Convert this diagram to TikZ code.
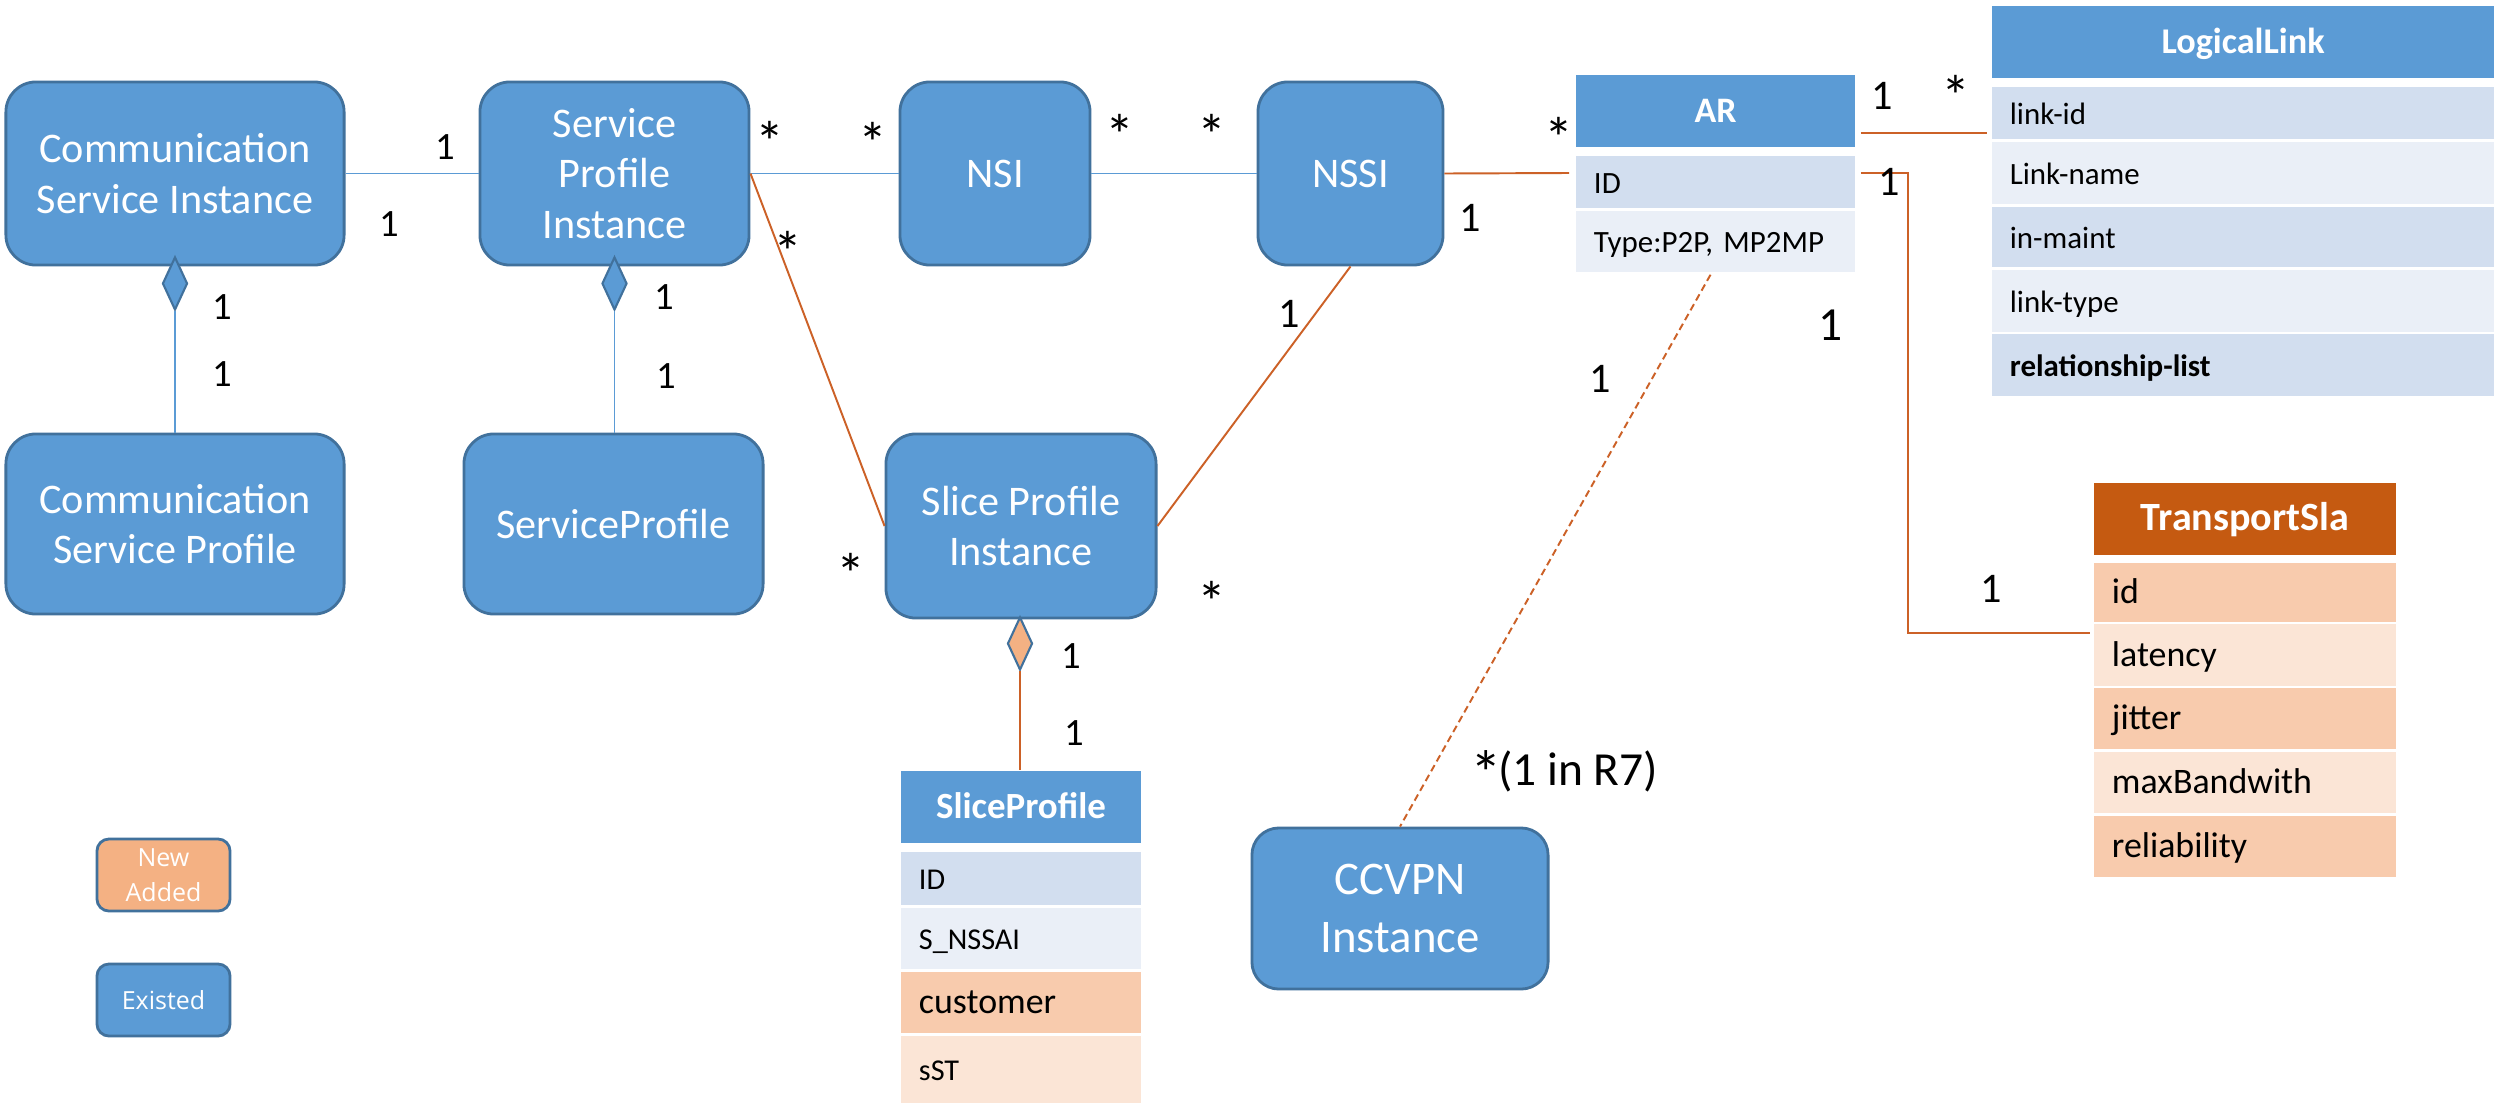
\documentclass[tikz,border=0pt]{standalone}
\usepackage{fontspec}
\setmainfont{Carlito}
\newfontfamily\legendfont{Open Sans}
\usetikzlibrary{calc,shapes.geometric}
\definecolor{boxblue}{HTML}{5B9BD5}
\definecolor{boxedge}{HTML}{41719C}
\definecolor{rowblueA}{HTML}{D2DEEF}
\definecolor{rowblueB}{HTML}{EAEFF7}
\definecolor{hdorange}{HTML}{C55A11}
\definecolor{roworA}{HTML}{F8CBAD}
\definecolor{roworB}{HTML}{FBE5D6}
\definecolor{neworange}{HTML}{F4B183}
\definecolor{linkorange}{HTML}{CC6127}
\tikzset{
  entity/.style={rectangle, rounded corners=0.3cm, draw=boxedge, line width=0.8pt, fill=boxblue,
    text=white, font=\fontsize{12}{14.3}\selectfont, align=center, inner sep=0pt},
  legendbox/.style={rectangle, rounded corners=0.12cm, draw=boxedge, line width=0.8pt,
    text=white, font=\legendfont\fontsize{7.1}{10}\selectfont, align=center, inner sep=0pt,
    minimum width=1.33cm, minimum height=0.72cm},
  hdr/.style={rectangle, inner sep=0pt, text=white, text height=0.644em, text depth=0pt,
    minimum height=0.72cm},
  cell/.style={rectangle, inner xsep=0.18cm, inner ysep=0pt, align=left, text=black,
    text height=0.644em, text depth=0pt},
  arcell/.style={cell, minimum width=2.79cm, text width=2.43cm, font=\fontsize{8.8}{10}\selectfont},
  llcell/.style={cell, minimum width=5.02cm, text width=4.66cm, font=\fontsize{8.8}{10}\selectfont},
  tscell/.style={cell, minimum width=3.02cm, text width=2.66cm, font=\fontsize{10.2}{12}\selectfont},
  spcell/.style={cell, minimum width=2.40cm, text width=2.04cm, font=\fontsize{8.6}{10}\selectfont},
  dmd/.style={diamond, draw=boxedge, line width=0.6pt, inner sep=0pt, minimum width=0.25cm, minimum height=0.53cm},
  blueline/.style={draw=boxblue, line width=0.5pt},
  orline/.style={draw=linkorange, line width=0.55pt},
  mult/.style={anchor=base, inner sep=0pt, font=\fontsize{11}{13}\selectfont},
  multL/.style={anchor=base, inner sep=0pt, font=\fontsize{12}{14}\selectfont},
  multXL/.style={anchor=base, inner sep=0pt, font=\fontsize{13.5}{16}\selectfont},
  star/.style={anchor=base, inner sep=0pt, font=\fontsize{16.5}{18}\selectfont},
}
\begin{document}
\begin{tikzpicture}[x=0.01cm, y=-0.01cm]
\useasboundingbox (0,0) rectangle (2494,1106);
\fill[white] (0,0) rectangle (2494,1106);

% entities
\node[entity, minimum width=3.38cm, minimum height=1.83cm] (csi) at (175,173.5) {Communication\\Service Instance};
\node[entity, minimum width=2.69cm, minimum height=1.83cm] (spi) at (614.5,173.5) {Service\\Profile\\Instance};
\node[entity, minimum width=1.90cm, minimum height=1.83cm] (nsi) at (995,173.5) {NSI};
\node[entity, minimum width=1.85cm, minimum height=1.83cm] (nssi) at (1350.5,173.5) {NSSI};
\node[entity, minimum width=3.38cm, minimum height=1.80cm] (csp) at (175,524) {Communication\\Service Profile};
\node[entity, minimum width=2.99cm, minimum height=1.80cm] (sprof) at (613.5,524) {ServiceProfile};
\node[entity, minimum width=2.70cm, minimum height=1.84cm] (spin) at (1021,526) {Slice Profile\\Instance};
\node[entity, minimum width=2.96cm, minimum height=1.61cm, rounded corners=0.27cm,
      font=\fontsize{13.3}{16.5}\selectfont] (ccvpn) at (1400,908.5) {CCVPN\\Instance};

% legend
\node[legendbox, fill=neworange] (lnew) at (163.5,875) {New\\Added};
\node[legendbox, fill=boxblue] (lexist) at (163.5,1000) {Existed};

% AR table
\node[hdr, fill=boxblue, minimum width=2.79cm, font=\bfseries\fontsize{10.2}{12}\selectfont] (arHead) at (1715.5,111) {AR};
\node[arcell, fill=rowblueA, minimum height=0.52cm] (arID) at (1715.5,182) {ID};
\node[arcell, fill=rowblueB, minimum height=0.61cm] (arType) at (1715.5,241.5) {Type:P2P, MP2MP};

% LogicalLink table
\node[hdr, fill=boxblue, minimum width=5.02cm, font=\bfseries\fontsize{10.3}{12}\selectfont] (llHead) at (2243,42) {LogicalLink};
\node[llcell, fill=rowblueA, minimum height=0.52cm] (llID) at (2243,113) {link-id};
\node[llcell, fill=rowblueB, minimum height=0.62cm] (llName) at (2243,173) {Link-name};
\node[llcell, fill=rowblueA, minimum height=0.60cm] (llMaint) at (2243,237) {in-maint};
\node[llcell, fill=rowblueB, minimum height=0.62cm] (llType) at (2243,301) {link-type};
\node[llcell, fill=rowblueA, minimum height=0.62cm] (llRel) at (2243,365) {\bfseries relationship-list};

% TransportSla table
\node[hdr, fill=hdorange, minimum width=3.02cm, font=\bfseries\fontsize{11.4}{13}\selectfont] (tsHead) at (2245,519) {TransportSla};
\node[tscell, fill=roworA, minimum height=0.59cm] (tsID) at (2245,592.5) {id};
\node[tscell, fill=roworB, minimum height=0.62cm] (tsLat) at (2245,655) {latency};
\node[tscell, fill=roworA, minimum height=0.61cm] (tsJit) at (2245,718.5) {jitter};
\node[tscell, fill=roworB, minimum height=0.61cm] (tsMax) at (2245,782.5) {maxBandwith};
\node[tscell, fill=roworA, minimum height=0.61cm] (tsRel) at (2245,846.5) {reliability};

% SliceProfile table
\node[hdr, fill=boxblue, minimum width=2.40cm, font=\bfseries\fontsize{10.5}{12}\selectfont] (spHead) at (1021,807) {SliceProfile};
\node[spcell, fill=rowblueA, minimum height=0.53cm] (spID) at (1021,878.5) {ID};
\node[spcell, fill=rowblueB, minimum height=0.61cm] (spNSSAI) at (1021,938.5) {S\_NSSAI};
\node[spcell, fill=roworA, minimum height=0.61cm, font=\fontsize{10.2}{12}\selectfont] (spCust) at (1021,1002.5) {customer};
\node[spcell, fill=roworB, minimum height=0.67cm] (spSST) at (1021,1069.5) {sST};

% diamonds
\node[dmd, fill=boxblue] (csiD) at (175,283.5) {};
\node[dmd, fill=boxblue] (spiD) at (614.5,283.5) {};
\node[dmd, fill=neworange] (spinD) at (1020,643.5) {};

% connectors
\draw[blueline] (csi.east) -- (spi.west);
\draw[blueline] (spi.east) -- (nsi.west);
\draw[blueline] (nsi.east) -- (nssi.west);
\draw[blueline] (csiD.south) -- (csiD.south |- csp.north);
\draw[blueline] (spiD.south) -- (spiD.south |- sprof.north);
\draw[orline] (spinD.south) -- (spinD.south |- spHead.north);
\draw[orline] (spi.east) -- (spin.west);
\draw[orline] (nssi.south) -- (spin.east);
\draw[orline] (nssi.east) -- ($(arID.west)+(-6,-9)$);
\draw[orline] ($(arHead.east)+(5,22)$) -- ($(llID.west)+(-4,20)$);
\draw[orline] ($(arID.east)+(5,-9)$) -- ++(47,0) |- ($(tsLat.west)+(-3,-22)$);
\draw[orline, dash pattern=on 2pt off 1.2pt] ($(arType.south)+(-5,2)$) -- (ccvpn.north);

% multiplicities
\node[mult] (m1) at (445,159) {1};
\node[mult] (m2) at (389,236) {1};
\node[star] (m3) at (770,162) {*};
\node[star] (m4) at (788,272) {*};
\node[star] (m5) at (873,163) {*};
\node[star] (m6) at (1120,155) {*};
\node[star] (m7) at (1212,155) {*};
\node[star] (m8) at (1559,158) {*};
\node[multL] (m9) at (1470,231) {1};
\node[multL] (m10) at (1289,327) {1};
\node[star] (m11) at (851,594) {*};
\node[star] (m12) at (1212,622) {*};
\node[mult] (m13) at (222,319) {1};
\node[mult] (m14) at (222,386) {1};
\node[mult] (m15) at (664,309) {1};
\node[mult] (m16) at (666,388) {1};
\node[mult] (m17) at (1071,668) {1};
\node[mult] (m18) at (1074,745) {1};
\node[multL] (m19) at (1882,109) {1};
\node[star] (m20) at (1956,116) {*};
\node[multL] (m21) at (1889,195) {1};
\node[multXL] (m22) at (1831,340) {1};
\node[multL] (m23) at (1600,392) {1};
\node[multL] (m24) at (1991,602) {1};
\node[multXL, anchor=base west] (m25) at (1470,785) {\raisebox{-0.1cm}{\fontsize{18}{18}\selectfont *}\kern-0.04cm(1 in R7)};
\end{tikzpicture}
\end{document}
